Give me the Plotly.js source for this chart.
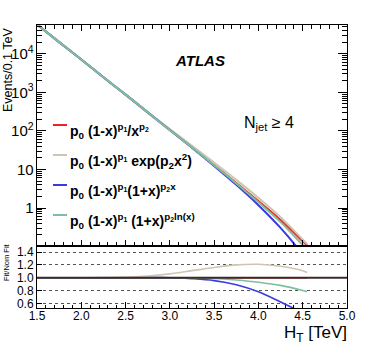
<!DOCTYPE html>
<html>
<head>
<meta charset="utf-8">
<script src="https://cdn.plot.ly/plotly-3.0.1.min.js"></script>
<style>
  html, body { margin: 0; padding: 0; background: #fff; }
  #chart { width: 366px; height: 352px; }
</style>
</head>
<body>
<div id="chart"></div>
<script>
// HT grid (TeV) and fitted event counts per 0.1 TeV
const htGrid = [1.5, 1.75, 2.0, 2.25, 2.5, 2.75, 3.0, 3.25, 3.5, 3.75, 4.0, 4.25, 4.5, 4.55];
const nomFit = [57500, 20000, 7080, 2455, 871, 302, 105, 37.2, 12.9, 4.47, 1.51, 0.49, 0.138, 0.107];
const expFit = [57500, 20000, 7080, 2462, 880, 310, 111.3, 41.3, 15.0, 5.36, 1.83, 0.578, 0.153, 0.116];
const powFit = [57500, 20000, 7080, 2455, 871, 302, 105, 36.6, 12.3, 3.98, 1.18, 0.304, 0.062, 0.043];
const logFit = [57500, 20000, 7080, 2455, 871, 302, 105, 37.1, 12.8, 4.31, 1.40, 0.431, 0.110, 0.084];

// fit / nominal fit
const ratioNom = [1, 1, 1, 1, 1, 1, 1, 1, 1, 1, 1, 1, 1, 1];
const ratioExp = [1, 1, 1, 1.003, 1.01, 1.025, 1.06, 1.11, 1.16, 1.20, 1.21, 1.18, 1.11, 1.08];
const ratioPow = [1, 1, 1, 1, 1, 1, 1, 0.985, 0.955, 0.89, 0.78, 0.62, 0.45, 0.40];
const ratioLog = [1, 1, 1, 1, 1, 1, 1, 0.998, 0.99, 0.965, 0.93, 0.88, 0.80, 0.78];

const ratioTicks = [0.6, 0.8, 1.0, 1.2, 1.4];

const fitLabels = [
  "p<sub>0</sub> (1-x)<sup>p<sub>1</sub></sup>/x<sup>p<sub>2</sub></sup>",
  "p<sub>0</sub> (1-x)<sup>p<sub>1</sub></sup> exp(p<sub>2</sub>x<sup>2</sup>)",
  "p<sub>0</sub> (1-x)<sup>p<sub>1</sub></sup>(1+x)<sup>p<sub>2</sub>x</sup>",
  "p<sub>0</sub> (1-x)<sup>p<sub>1</sub></sup> (1+x)<sup>p<sub>2</sub>ln(x)</sup>"
];
const fitColors = ["#f22222", "#cdc6b0", "#3a3ae0", "#7dbf9f"];

const FONT = "Liberation Sans, Arial, Helvetica, sans-serif";

// pixel -> paper helpers (plot area is x 37..347, y 25..308)
const px = x => (x - 37) / 310;
const py = y => (308 - y) / 283;

const mainSeries = [nomFit, expFit, powFit, logFit];
const ratioSeries = [ratioNom, ratioExp, ratioPow, ratioLog];

const traces = [];
mainSeries.forEach((ys, i) => {
  traces.push({
    type: "scatter", mode: "lines", x: htGrid, y: ys,
    xaxis: "x", yaxis: "y",
    line: { color: fitColors[i], width: 2, shape: "spline" },
    hoverinfo: "skip"
  });
});
ratioSeries.forEach((ys, i) => {
  traces.push({
    type: "scatter", mode: "lines", x: htGrid, y: ys,
    xaxis: "x2", yaxis: "y2",
    line: { color: fitColors[i], width: 1.6, shape: "spline" },
    hoverinfo: "skip"
  });
});

const legendY = [131, 161, 191, 221];
const annotations = fitLabels.map((t, i) => ({
  xref: "paper", yref: "paper", x: px(68), y: py(legendY[i]),
  xanchor: "left", yanchor: "middle", showarrow: false,
  text: "<b>" + t + "</b>",
  font: { family: FONT, size: 14, color: "#000" }
}));

annotations.push(
  {
    xref: "paper", yref: "paper", x: px(200), y: py(60),
    xanchor: "center", yanchor: "middle", showarrow: false,
    text: "<b><i>ATLAS</i></b>",
    font: { family: FONT, size: 15, color: "#000" }
  },
  {
    xref: "paper", yref: "paper", x: px(269), y: py(123),
    xanchor: "center", yanchor: "middle", showarrow: false,
    text: "N<sub>jet</sub> \u2265 4",
    font: { family: FONT, size: 16, color: "#000" }
  },
  {
    xref: "paper", yref: "paper", x: px(8), y: py(70),
    xanchor: "center", yanchor: "middle", showarrow: false, textangle: -90,
    text: "Events/0.1 TeV",
    font: { family: FONT, size: 12.5, color: "#000" }
  },
  {
    xref: "paper", yref: "paper", x: px(6), y: py(262),
    xanchor: "center", yanchor: "middle", showarrow: false, textangle: -90,
    text: "Fit/Nom Fit",
    font: { family: FONT, size: 7.5, color: "#000" }
  },
  {
    xref: "paper", yref: "paper", x: px(349), y: py(334),
    xanchor: "right", yanchor: "middle", showarrow: false,
    text: "H<sub>T</sub> [TeV]",
    font: { family: FONT, size: 17, color: "#000" }
  }
);

const shapes = legendY.map((y, i) => ({
  type: "line", xref: "paper", yref: "paper",
  x0: px(53), x1: px(67), y0: py(y - 6), y1: py(y - 6),
  line: { color: fitColors[i], width: 2 }
}));
shapes.push({
  type: "line", xref: "paper", yref: "y2", x0: 0, x1: 1, y0: 1, y1: 1,
  line: { color: "#3a2a2a", width: 2 }, layer: "above"
});

const split = 0.2191;
const axisCommon = {
  showline: true, linecolor: "#000", linewidth: 1,
  ticks: "inside", tickcolor: "#000", tickwidth: 1,
  zeroline: false, showgrid: false,
  tickfont: { family: FONT, size: 12, color: "#000" }
};

const layout = {
  width: 366, height: 352,
  margin: { l: 37, r: 19, t: 25, b: 44 },
  paper_bgcolor: "#fff", plot_bgcolor: "#fff",
  showlegend: false,
  xaxis: Object.assign({}, axisCommon, {
    domain: [0, 1], anchor: "y", range: [1.5, 5.0],
    tick0: 1.5, dtick: 0.5, ticklen: 6, mirror: "ticks",
    showticklabels: false,
    minor: { dtick: 0.1, ticks: "inside", ticklen: 3.5, tickcolor: "#000" }
  }),
  yaxis: Object.assign({}, axisCommon, {
    domain: [split, 1], anchor: "x", type: "log", range: [-0.985, 4.745],
    dtick: 1, exponentformat: "power", ticklen: 9, mirror: "ticks",
    minor: { dtick: "D1", ticks: "inside", ticklen: 5, tickcolor: "#000" }
  }),
  xaxis2: Object.assign({}, axisCommon, {
    domain: [0, 1], anchor: "y2", range: [1.5, 5.0],
    tick0: 1.5, dtick: 0.5, tickformat: ".1f", ticklen: 6, mirror: true,
    ticklabelstandoff: -3,
    minor: { dtick: 0.1, ticks: "inside", ticklen: 3.5, tickcolor: "#000" }
  }),
  yaxis2: Object.assign({}, axisCommon, {
    domain: [0, split], anchor: "x2", range: [0.527, 1.495],
    tickvals: ratioTicks, ticktext: ratioTicks.map(v => v.toFixed(1)),
    ticklen: 5, mirror: true,
    showgrid: true, gridcolor: "#555", gridwidth: 1, griddash: "dot"
  }),
  annotations: annotations,
  shapes: shapes
};

Plotly.newPlot("chart", traces, layout, { displayModeBar: false, staticPlot: true });
</script>
</body>
</html>
